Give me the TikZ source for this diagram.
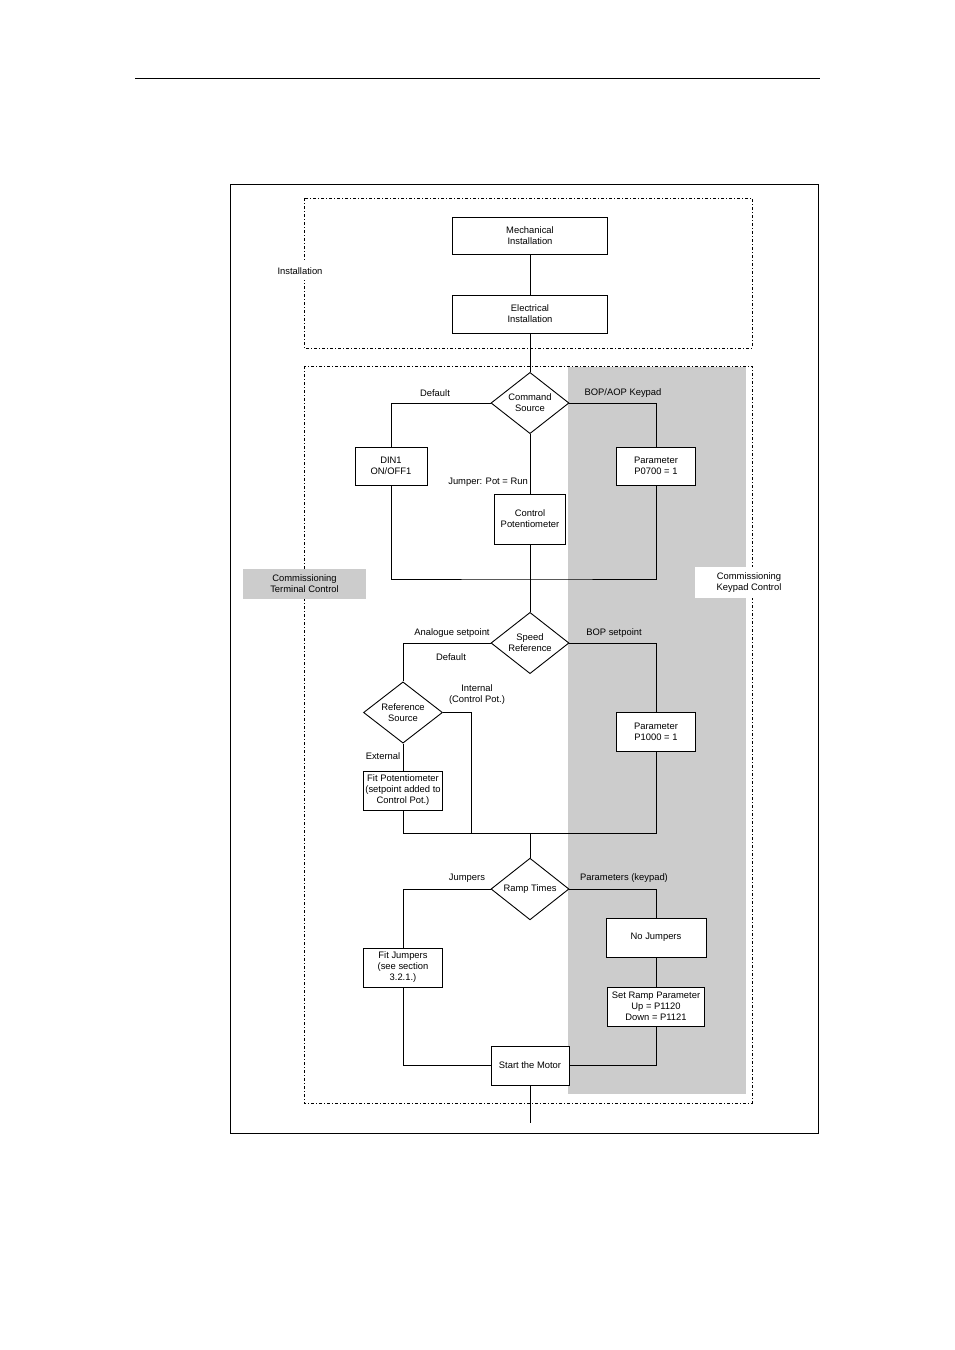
\documentclass[tikz,border=0pt]{standalone}
\usepackage{fontspec}
\setmainfont{Liberation Sans}
\usetikzlibrary{shapes.geometric}
\definecolor{keygray}{RGB}{204,204,204}
\begin{document}
\begin{tikzpicture}[x=1pt,y=-1pt,
  font=\fontsize{9.4}{11}\selectfont,
  conn/.style={draw=black,line width=0.9pt},
  boxnode/.style={draw=black,line width=0.9pt,fill=white,rectangle,inner sep=1pt,align=center},
  decision/.style={draw=black,line width=0.9pt,fill=white,diamond,inner sep=0pt,align=center,minimum width=78pt,minimum height=57pt},
  lbl/.style={inner sep=0pt,align=center},
  dashbox/.style={draw=black,line width=0.7pt,dash pattern=on 3pt off 2pt on 1pt off 2pt}]
\useasboundingbox (0,0) rectangle (954,1350);
% page rule and frame
\draw[line width=0.8pt] (135,78) -- (820,78);
\draw[line width=0.9pt] (230,184) rectangle (818,1133);
% grey keypad region
\fill[keygray] (568,367) rectangle (746,1094);
% dashed group boxes
\draw[dashbox] (304,198) rectangle (752,348);
\draw[dashbox] (304,366) rectangle (752,1103);
% side labels
\node[lbl,fill=white,inner ysep=6pt] (inst) at (300,271) {Installation};
\node[lbl,fill=keygray,minimum width=123pt,minimum height=30pt] (ctc) at (304.5,584) {Commissioning\\Terminal Control};
\node[lbl,fill=white,minimum width=108pt,minimum height=31pt] (ckc) at (749,582.5) {Commissioning\\Keypad Control};
% nodes
\node[boxnode,minimum width=155pt,minimum height=37pt] (mech) at (530,235.5) {Mechanical\\Installation};
\node[boxnode,minimum width=155pt,minimum height=38pt] (elec) at (530,314) {Electrical\\Installation};
\node[decision] (cmd) at (530,403) {Command\\Source};
\node[boxnode,minimum width=72pt,minimum height=38pt] (din) at (391,466) {DIN1\\ON/OFF1};
\node[boxnode,minimum width=79pt,minimum height=38pt] (p700) at (656,466) {Parameter\\P0700 = 1};
\node[boxnode,minimum width=71pt,minimum height=50pt] (pot) at (530,519) {Control\\Potentiometer};
\node[decision,minimum height=58pt] (spd) at (530,643) {Speed\\Reference};
\node[decision,minimum width=79pt] (rs) at (403,712.5) {Reference\\Source};
\node[boxnode,minimum width=79pt,minimum height=39pt] (fp) at (403,790.5) {Fit Potentiometer\\(setpoint added to\\Control Pot.)};
\node[boxnode,minimum width=79pt,minimum height=39pt] (p1000) at (656,731.5) {Parameter\\P1000 = 1};
\node[decision,minimum height=58pt] (ramp) at (530,889) {Ramp Times};
\node[boxnode,minimum width=79pt,minimum height=39pt] (fj) at (403,967.5) {Fit Jumpers\\(see section\\3.2.1.)};
\node[boxnode,minimum width=100pt,minimum height=39pt] (nj) at (656,937.5) {No Jumpers};
\node[boxnode,minimum width=97pt,minimum height=39pt] (sr) at (656,1006.5) {Set Ramp Parameter\\Up = P1120\\Down = P1121};
\node[boxnode,minimum width=78pt,minimum height=39pt] (start) at (530,1065.5) {Start the Motor};
% coordinates
\coordinate (m1) at (530,579);
\coordinate (m2) at (530,833);
\coordinate (m2i) at (471,833);
\coordinate (endpt) at (530,1123);
% connectors
\draw[conn] (mech) -- (elec);
\draw[conn] (elec) -- (cmd);
\draw[conn] (cmd.west) -| (din.north);
\draw[conn] (cmd.east) -| (p700.north);
\draw[conn] (cmd.south) -- (pot.north);
\draw[conn] (din.south) |- (m1) -| (p700.south);
\draw[conn] (pot.south) -- (spd.north);
\draw[conn] (spd.west) -| (rs.north);
\draw[conn] (spd.east) -| (p1000.north);
\draw[conn] (rs.south) -- (fp.north);
\draw[conn] (rs.east) -| (m2i);
\draw[conn] (fp.south) |- (m2) -| (p1000.south);
\draw[conn] (m2) -- (ramp.north);
\draw[conn] (ramp.west) -| (fj.north);
\draw[conn] (ramp.east) -| (nj.north);
\draw[conn] (nj.south) -- (sr.north);
\draw[conn] (fj.south) |- (start.west);
\draw[conn] (sr.south) |- (start.east);
\draw[conn] (start.south) -- (endpt);
% connector labels
\node[lbl] (ldef1) at (435,393) {Default};
\node[lbl] (lbop) at (623,393) {BOP/AOP Keypad};
\node[lbl,anchor=east] (ljmp) at (528,482) {Jumper: Pot = Run};
\node[lbl] (lana) at (452,633) {Analogue setpoint};
\node[lbl] (ldef2) at (451,657) {Default};
\node[lbl] (lbops) at (614,633) {BOP setpoint};
\node[lbl] (lint) at (477,694.5) {Internal\\(Control Pot.)};
\node[lbl] (lext) at (383,756) {External};
\node[lbl] (ljum) at (467,878) {Jumpers};
\node[lbl] (lpar) at (624,878) {Parameters (keypad)};
\end{tikzpicture}
\end{document}
